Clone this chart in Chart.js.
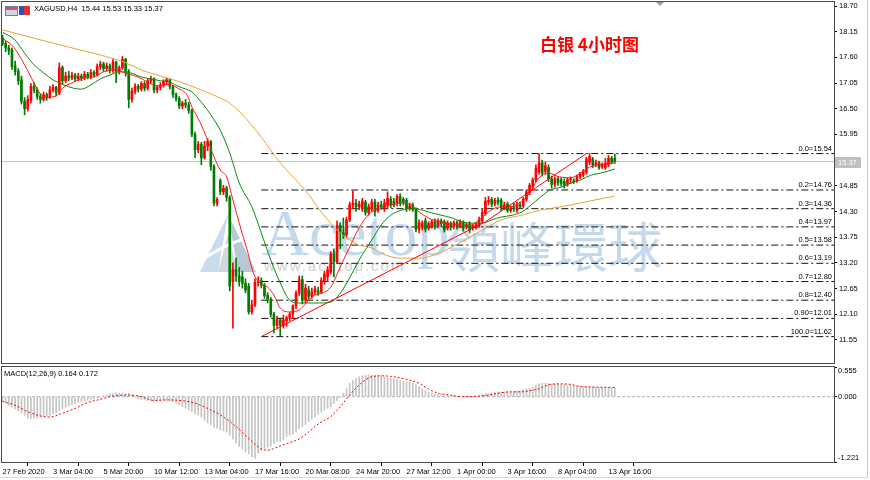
<!DOCTYPE html>
<html>
<head>
<meta charset="utf-8">
<script src="https://cdn.jsdelivr.net/npm/chart.js@4.4.1/dist/chart.umd.min.js"></script>
<style>
  body { margin: 0; background: #fff; width: 870px; height: 480px; overflow: hidden; position: relative; font-family: 'Liberation Sans', Arial, sans-serif; }
  canvas { position: absolute; left: 0; }
  #main { top: 0; }
  #macd { top: 365px; }
  .abs { position: absolute; white-space: nowrap; }
  #wmA { left: 262px; top: 201px; font: 65px/1 'Liberation Serif', serif; color: #c4d9ec; }
  #wmCn { left: 446px; top: 218px; font: 54px/1 'Noto Sans CJK TC', sans-serif; color: #c4d9ec; }
  #wmUrl { left: 264px; top: 258px; font: 15px/1 'Liberation Sans', sans-serif; color: #cfcfcf; letter-spacing: 2px; }
  #title { left: 540px; top: 35px; font: 700 17px/1 'Noto Sans CJK SC', sans-serif; color: #ff0000; }
  #hdr { left: 34px; top: 5px; font: 7.5px/1 'Liberation Sans', sans-serif; color: #000; }
  #macdLbl { left: 4px; top: 370px; font: 7.5px/1 'Liberation Sans', sans-serif; color: #000; }
  #ico1 { left: 5px; top: 6px; width: 11px; height: 8px; border: 1px solid #6d7fa8; background: linear-gradient(#e05050 0 3px, #cfd8ea 3px); }
  #ico2 { left: 19px; top: 6px; width: 11px; height: 9px; background: linear-gradient(90deg, #3050c0 0 5px, #e03030 5px); }
  #shift { left: 656px; top: 2px; width: 0; height: 0; border-left: 4px solid transparent; border-right: 4px solid transparent; border-top: 4px solid #a0a0a0; }
  #win { left: 0; top: 0; width: 867px; height: 477px; border-right: 1px solid #c8c8c8; border-bottom: 1px solid #d8d8d8; }
</style>
</head>
<body>
<div id="win" class="abs"></div>
<svg class="abs" style="left:198px;top:212px" width="70" height="62">
  <polygon points="30,2 2,60 20,60" fill="#c9dbec"/>
  <polygon points="30,2 58,60 40,60" fill="#b9c7d6"/>
  <polygon points="30,22 20,60 40,60" fill="#d3d7dc"/>
  <path d="M4,48 Q30,30 62,22" stroke="#fff" stroke-width="3" fill="none"/>
</svg>
<div id="wmA" class="abs">Acetop</div>
<div id="wmCn" class="abs">領峰環球</div>
<div id="wmUrl" class="abs">www.acetop.com</div>
<canvas id="main" width="870" height="365" style="width:870px;height:365px"></canvas>
<canvas id="macd" width="870" height="115" style="width:870px;height:115px"></canvas>
<div id="ico1" class="abs"></div>
<div id="ico2" class="abs"></div>
<div id="hdr" class="abs">XAGUSD,H4&nbsp; 15.44 15.53 15.33 15.37</div>
<div id="title" class="abs">白银 4小时图</div>
<div id="macdLbl" class="abs">MACD(12,26,9) 0.164 0.172</div>
<div id="shift" class="abs"></div>

<script>
// H4 bars, XAGUSD, from 27 Feb 2020 12:00
const opens = [
  18.02,17.90,17.80,17.76,17.42,17.30,17.12,16.66,16.50,16.68,
  16.98,16.90,16.76,16.70,16.80,16.74,16.90,16.96,16.84,17.38,
  17.10,17.20,17.16,17.22,17.14,17.20,17.16,17.24,17.18,17.28,
  17.22,17.40,17.46,17.36,17.42,17.32,17.50,17.30,17.38,17.56,
  17.30,16.70,16.88,16.98,16.92,17.04,16.94,17.10,17.14,16.90,
  16.96,17.00,17.08,17.12,16.98,16.80,16.72,16.56,16.62,16.58,
  16.46,15.95,15.62,15.74,15.45,15.70,15.80,15.26,14.48,14.96,
  14.72,14.80,14.60,12.80,13.05,12.92,12.90,12.76,12.70,12.15,
  12.30,12.78,12.82,12.72,12.50,12.42,12.10,11.86,11.98,11.86,
  11.96,12.02,12.10,12.28,12.55,12.84,12.40,12.62,12.48,12.58,
  12.60,12.58,12.80,12.90,13.00,13.40,13.22,14.00,13.84,13.80,
  14.12,14.44,14.48,14.40,14.36,14.50,14.28,14.36,14.50,14.32,
  14.44,14.36,14.44,14.56,14.52,14.48,14.62,14.56,14.54,14.36,
  14.44,14.34,13.92,13.96,14.10,13.94,13.98,14.08,14.00,14.10,
  14.08,13.94,14.04,13.98,14.06,14.00,14.06,13.96,14.04,13.94,
  13.96,14.00,14.10,14.26,14.50,14.56,14.46,14.54,14.54,14.38,
  14.46,14.32,14.38,14.32,14.44,14.42,14.56,14.70,14.82,14.98,
  15.14,15.34,15.16,15.24,15.00,14.88,15.00,14.98,14.94,14.88,
  14.98,14.96,14.96,15.04,15.08,15.14,15.36,15.42,15.30,15.34,
  15.26,15.24,15.30,15.44,15.44
];
const highs = [
  18.08,17.95,17.86,17.80,17.52,17.36,17.20,16.74,16.78,17.04,
  17.06,16.95,16.82,16.86,16.84,16.98,17.02,16.98,17.48,17.42,
  17.28,17.30,17.28,17.26,17.26,17.24,17.30,17.28,17.34,17.32,
  17.46,17.52,17.50,17.48,17.46,17.56,17.52,17.42,17.62,17.58,
  17.34,16.94,17.04,17.02,17.08,17.08,17.14,17.20,17.16,17.00,
  17.06,17.12,17.16,17.14,17.00,16.84,16.76,16.66,16.70,16.64,
  16.50,16.00,15.80,15.78,15.80,15.86,15.82,15.30,14.60,15.00,
  14.86,14.84,14.64,13.20,13.30,13.10,13.02,12.86,12.76,12.40,
  12.86,12.90,12.88,12.76,12.56,12.46,12.14,12.06,12.02,12.08,
  12.06,12.14,12.30,12.60,12.92,12.92,12.74,12.70,12.66,12.70,
  12.68,12.88,13.02,13.12,13.44,13.50,14.10,14.06,14.16,14.18,
  14.50,14.74,14.56,14.52,14.58,14.54,14.46,14.56,14.56,14.50,
  14.52,14.56,14.72,14.62,14.58,14.66,14.68,14.60,14.58,14.48,
  14.48,14.38,14.12,14.10,14.16,14.08,14.12,14.14,14.14,14.14,
  14.12,14.10,14.08,14.10,14.10,14.12,14.10,14.06,14.08,14.02,
  14.06,14.18,14.34,14.60,14.62,14.60,14.58,14.60,14.58,14.50,
  14.50,14.42,14.48,14.50,14.50,14.60,14.76,14.90,15.02,15.30,
  15.54,15.40,15.36,15.30,15.06,15.04,15.04,15.02,15.00,15.02,
  15.04,15.00,15.08,15.14,15.20,15.46,15.54,15.46,15.40,15.38,
  15.34,15.44,15.50,15.48,15.53
];
const lows = [
  17.85,17.72,17.66,17.34,17.22,17.02,16.60,16.37,16.45,16.62,
  16.84,16.70,16.62,16.66,16.68,16.72,16.86,16.78,16.80,17.02,
  17.06,17.10,17.12,17.08,17.10,17.10,17.12,17.14,17.14,17.18,
  17.20,17.34,17.30,17.30,17.26,17.28,17.06,17.24,17.34,17.20,
  16.52,16.64,16.82,16.86,16.88,16.88,16.90,17.04,16.84,16.84,
  16.90,16.96,17.02,16.92,16.74,16.66,16.50,16.50,16.52,16.40,
  15.90,15.45,15.56,15.30,15.42,15.60,15.18,14.42,14.42,14.66,
  14.66,14.52,12.60,11.80,12.80,12.70,12.66,12.56,12.10,12.10,
  12.26,12.70,12.66,12.44,12.34,12.04,11.70,11.80,11.64,11.80,
  11.84,11.96,12.02,12.22,12.50,12.32,12.34,12.42,12.44,12.52,
  12.50,12.54,12.74,12.80,12.96,12.90,13.18,13.50,13.72,13.76,
  14.08,14.36,14.30,14.34,14.30,14.22,14.22,14.30,14.20,14.28,
  14.34,14.30,14.38,14.38,14.40,14.42,14.42,14.44,14.30,14.32,
  14.30,13.86,13.84,13.90,13.86,13.90,13.94,13.92,13.96,13.98,
  13.86,13.90,13.90,13.92,13.92,13.96,13.88,13.92,13.84,13.90,
  13.92,13.96,14.06,14.22,14.44,14.40,14.42,14.44,14.32,14.34,
  14.28,14.28,14.30,14.28,14.36,14.38,14.52,14.66,14.76,14.94,
  15.10,15.06,15.10,14.94,14.80,14.82,14.86,14.84,14.80,14.84,
  14.90,14.90,14.92,15.00,15.04,15.10,15.30,15.24,15.26,15.20,
  15.22,15.20,15.26,15.32,15.33
];
const closes = [
  17.90,17.80,17.74,17.40,17.30,17.10,16.66,16.50,16.70,16.98,
  16.90,16.76,16.70,16.80,16.74,16.90,16.96,16.84,17.38,17.10,
  17.20,17.16,17.22,17.14,17.20,17.16,17.24,17.18,17.28,17.22,
  17.40,17.46,17.36,17.42,17.32,17.50,17.30,17.38,17.56,17.30,
  16.70,16.88,16.98,16.92,17.04,16.94,17.10,17.14,16.90,16.96,
  17.00,17.08,17.12,16.98,16.80,16.72,16.56,16.62,16.58,16.46,
  15.95,15.62,15.74,15.45,15.70,15.80,15.26,14.48,14.56,14.72,
  14.80,14.60,12.70,13.05,12.92,12.80,12.76,12.62,12.15,12.30,
  12.78,12.82,12.72,12.50,12.42,12.10,11.86,11.98,11.86,11.98,
  12.02,12.10,12.28,12.55,12.84,12.40,12.66,12.48,12.58,12.64,
  12.56,12.82,12.96,13.05,13.38,13.22,14.00,13.84,13.78,14.12,
  14.44,14.48,14.40,14.46,14.52,14.28,14.40,14.50,14.30,14.44,
  14.40,14.48,14.58,14.44,14.44,14.62,14.48,14.50,14.36,14.42,
  14.34,13.92,14.06,14.06,13.92,14.04,14.08,13.98,14.10,14.04,
  13.90,14.06,13.96,14.06,13.98,14.08,13.94,14.02,13.90,13.98,
  14.02,14.12,14.28,14.52,14.54,14.46,14.54,14.50,14.38,14.44,
  14.32,14.38,14.36,14.46,14.40,14.56,14.72,14.86,14.98,15.22,
  15.34,15.12,15.28,15.00,14.88,15.00,14.92,14.90,14.86,14.98,
  15.00,14.94,15.04,15.10,15.16,15.42,15.48,15.30,15.34,15.24,
  15.30,15.34,15.44,15.36,15.37
];

// moving averages (bar index, price)
const maFastIdx = [0,3.5,7,10,12,14,17,19,22.5,26,29,32,35,37,40,43,46,49,51,53,55.5,58.5,60,62.5,65,67,69,71,73,75,77.5,79.5,81.5,84,86,88,91,94,96.5,98,104,107,110,113,116.5,119.5,123,126,129,132,135,138.5,145,148,151,154,157.5,160.5,164,167,170,173,176.5,180,183,186,189,194];
const maFast = [18.01,17.82,17.44,17.05,16.82,16.75,16.77,16.94,17.07,17.16,17.18,17.29,17.33,17.31,17.24,17.18,17.07,16.99,17.01,17.02,16.94,16.79,16.54,16.22,15.83,15.47,15.19,15.04,14.55,14.05,13.48,12.98,12.77,12.68,12.51,12.23,12.15,12.19,12.36,12.47,12.68,13.11,13.54,13.95,14.27,14.37,14.44,14.48,14.46,14.29,14.16,14.08,14.01,14.00,14.12,14.29,14.40,14.40,14.48,14.70,15.02,15.12,15.04,15.02,15.12,15.25,15.30,15.34];
const maMidIdx = [0,4,7,10,13,16,19.5,22.5,25,28,31,34,37,40.5,44,47,50,53,56,60,63,66,69,72,75,79,82,85,88,91,94,100.5,104,107,110,113,117,120,123,126.5,129.5,133,136,139,142.5,145.5,148.5,152,155,158,161.5,164.5,167.5,170.5,173.5,177,180,183,186.5,189.5,194];
const maMid = [18.14,17.97,17.69,17.44,17.27,17.12,17.01,16.94,16.92,17.01,17.14,17.22,17.29,17.27,17.18,17.14,17.10,17.07,16.97,16.86,16.64,16.37,16.04,15.55,14.91,14.40,13.84,13.26,12.77,12.40,12.34,12.34,12.36,12.55,12.88,13.26,13.69,14.01,14.22,14.33,14.37,14.33,14.27,14.22,14.16,14.08,14.05,14.05,14.12,14.18,14.22,14.29,14.44,14.61,14.76,14.82,14.91,14.97,15.08,15.12,15.21];
const maSlowIdx = [0,10,21,31,38.5,44,50,56.5,63,69,72,75.5,82,88,94,97.5,100.5,104,107,110,113,117,120,123,126.5,133,135,139,145.5,152,158,164.5,170.5,177,183,189.5,194];
const maSlow = [18.19,18.01,17.82,17.65,17.50,17.33,17.20,17.07,16.90,16.73,16.62,16.41,15.89,15.34,14.90,14.62,14.33,14.05,13.84,13.69,13.58,13.52,13.41,13.33,13.30,13.30,13.33,13.43,13.65,13.90,14.12,14.22,14.33,14.40,14.48,14.57,14.63];

// fibonacci retracement and trend lines
const fibRatios = ['0.0','0.2','0.3','0.4','0.5','0.6','0.7','0.8','0.90','100.0'];
const fibLevels = [15.54,14.76,14.36,13.97,13.58,13.19,12.80,12.40,12.01,11.62];
const fibStart = 82;
const trendA = [[82, 11.62], [153, 14.08]];
const trendB = [[153, 14.08], [185, 15.54]];
const lastPrice = 15.37;

// MACD(12,26,9)
const macdMain = [
  -0.09,-0.12,-0.16,-0.19,-0.23,-0.27,-0.31,-0.35,-0.40,-0.41,
  -0.40,-0.40,-0.38,-0.37,-0.36,-0.34,-0.32,-0.30,-0.26,-0.23,
  -0.20,-0.17,-0.15,-0.13,-0.11,-0.09,-0.08,-0.06,-0.05,-0.04,
  -0.02,-0.01,0.01,0.03,0.05,0.06,0.07,0.07,0.07,0.06,
  0.06,0.03,0.00,-0.04,-0.05,-0.06,-0.07,-0.08,-0.09,-0.09,
  -0.08,-0.07,-0.07,-0.08,-0.10,-0.12,-0.15,-0.19,-0.22,-0.25,
  -0.28,-0.32,-0.34,-0.38,-0.44,-0.49,-0.53,-0.57,-0.59,-0.62,
  -0.64,-0.66,-0.72,-0.79,-0.87,-0.93,-0.98,-1.03,-1.07,-1.12,
  -1.15,-1.05,-1.00,-0.97,-0.94,-0.92,-0.88,-0.84,-0.84,-0.80,
  -0.75,-0.72,-0.70,-0.66,-0.60,-0.56,-0.52,-0.47,-0.42,-0.38,
  -0.33,-0.29,-0.25,-0.22,-0.19,-0.13,-0.07,-0.02,0.06,0.15,
  0.25,0.30,0.34,0.37,0.39,0.40,0.41,0.41,0.40,0.39,
  0.39,0.37,0.36,0.35,0.33,0.32,0.30,0.29,0.28,0.28,
  0.25,0.22,0.19,0.15,0.12,0.09,0.07,0.06,0.05,0.04,
  0.03,0.02,0.01,0.01,0.00,0.00,0.00,0.01,0.01,0.01,
  0.01,0.02,0.04,0.06,0.06,0.07,0.08,0.09,0.09,0.09,
  0.09,0.09,0.10,0.11,0.11,0.13,0.15,0.15,0.18,0.21,
  0.24,0.25,0.25,0.25,0.24,0.24,0.24,0.23,0.23,0.22,
  0.22,0.21,0.20,0.20,0.19,0.19,0.18,0.18,0.18,0.17,
  0.17,0.17,0.17,0.16,0.164
];
const signalIdx = [0,4,8,12,15,18.5,23,27,31,35,40,44,48,52,56,61,65,69,74,78,82,84,88,91,94,97,100.5,104,107,110,113,116,120,123,126,129,132,135,138.5,142,145,148,151,154,157.5,161,164,167,170,173,176.5,180,183,187,194];
const signal = [-0.09,-0.16,-0.28,-0.36,-0.38,-0.32,-0.22,-0.11,-0.05,0.01,0.03,0.00,-0.07,-0.06,-0.07,-0.12,-0.22,-0.34,-0.56,-0.78,-0.98,-1.00,-0.92,-0.86,-0.79,-0.66,-0.49,-0.37,-0.19,0.03,0.22,0.35,0.39,0.38,0.35,0.31,0.25,0.14,0.06,0.03,0.00,0.00,0.01,0.03,0.07,0.09,0.09,0.11,0.15,0.22,0.24,0.23,0.19,0.18,0.172];

// time axis
const timeTickIdx = [0,16,32,48,64,80,96,112,128,144,160,176,192];
const timeLabels = ['27 Feb 2020','3 Mar 04:00','5 Mar 20:00','10 Mar 12:00','13 Mar 04:00','17 Mar 16:00','20 Mar 08:00','24 Mar 20:00','27 Mar 12:00','1 Apr 00:00','3 Apr 16:00','8 Apr 04:00','13 Apr 16:00'];
const priceTicks = [18.70,18.15,17.60,17.05,16.50,15.95,15.40,14.85,14.30,13.75,13.20,12.65,12.10,11.55];
const macdTicks = [0.555, 0.000, -1.221];

// Constants
const X_MIN = -0.16;
const X_MAX = 263.45;
const UP = '#ff0000';
const DOWN = '#007d00';
const AXIS_FONT = { family: 'Liberation Sans', size: 7.5 };

Chart.defaults.animation = false;
Chart.defaults.font.family = 'Liberation Sans';

const pts = (xs, ys) => xs.map((x, i) => ({ x: x, y: ys[i] }));
const colorOf = i => closes[i] >= opens[i] ? UP : DOWN;
// keep the plot area where MT4 puts it (no extra room for edge labels)
const noPad = s => { s.paddingTop = 0; s.paddingBottom = 0; s.width = 36; };

// Frame round the plot area
const framePlugin = {
    id: 'frame',
    afterDraw(chart) {
        const a = chart.chartArea;
        const ctx = chart.ctx;
        ctx.save();
        ctx.strokeStyle = '#4a4a4a';
        ctx.lineWidth = 1;
        ctx.strokeRect(a.left - 0.5, a.top - 0.5, a.right - a.left + 1, a.bottom - a.top + 1);
        ctx.restore();
    }
};

// Fibonacci labels and last price tag
const mainLabels = {
    id: 'mainLabels',
    afterDraw(chart) {
        const ctx = chart.ctx;
        const y = chart.scales.y;
        ctx.save();
        ctx.font = '7.5px "Liberation Sans"';
        ctx.fillStyle = '#000';
        ctx.textAlign = 'right';
        ctx.textBaseline = 'bottom';
        fibLevels.forEach((lv, i) => {
            ctx.fillText(fibRatios[i] + '=' + lv.toFixed(2), 832, Math.round(y.getPixelForValue(lv)) - 1);
        });
        const py = Math.round(y.getPixelForValue(lastPrice));
        ctx.fillStyle = '#c0c0c0';
        ctx.fillRect(835, py - 5, 26, 11);
        ctx.fillStyle = '#fff';
        ctx.textAlign = 'left';
        ctx.textBaseline = 'middle';
        ctx.fillText(lastPrice.toFixed(2), 838, py + 0.5);
        ctx.restore();
    }
};

// MACD scale labels sit inside the window edges, as in MT4
const macdLabels = {
    id: 'macdLabels',
    afterDraw(chart) {
        const ctx = chart.ctx;
        const y = chart.scales.y;
        const a = chart.chartArea;
        ctx.save();
        ctx.font = '7.5px "Liberation Sans"';
        ctx.fillStyle = '#000';
        ctx.textAlign = 'left';
        ctx.textBaseline = 'middle';
        macdTicks.forEach(v => {
            let py = y.getPixelForValue(v);
            py = Math.min(Math.max(py, a.top + 4), a.bottom - 4);
            ctx.fillText(v.toFixed(3), 838, py);
        });
        ctx.restore();
    }
};

function initMainChart() {
    const idx = closes.map((c, i) => i);
    const datasets = [
        {
            type: 'bar', order: 5, grouped: false, barThickness: 1,
            data: idx.map(i => ({ x: i, y: [lows[i], highs[i]] })),
            backgroundColor: idx.map(colorOf)
        },
        {
            type: 'bar', order: 4, grouped: false, barThickness: 2,
            data: idx.map(i => ({ x: i, y: [opens[i], closes[i]] })),
            backgroundColor: idx.map(colorOf)
        },
        { type: 'line', order: 3, data: pts(maSlowIdx, maSlow), borderColor: '#e6a534' },
        { type: 'line', order: 2, data: pts(maMidIdx, maMid), borderColor: '#0a8a0a' },
        { type: 'line', order: 1, data: pts(maFastIdx, maFast), borderColor: '#ff1a1a' },
        { type: 'line', order: 0, data: trendA.map(p => ({ x: p[0], y: p[1] })), borderColor: '#ff0000', tension: 0 },
        { type: 'line', order: 0, data: trendB.map(p => ({ x: p[0], y: p[1] })), borderColor: '#ff0000', tension: 0 },
        { type: 'line', order: 9, data: [{ x: X_MIN, y: lastPrice }, { x: X_MAX, y: lastPrice }], borderColor: '#c4c4c4', tension: 0 }
    ];
    fibLevels.forEach(lv => {
        datasets.push({
            type: 'line', order: 8, tension: 0,
            data: [{ x: fibStart, y: lv }, { x: X_MAX, y: lv }],
            borderColor: '#111', borderDash: [7, 3, 2, 3]
        });
    });
    datasets.forEach(d => {
        if (d.type === 'line') {
            d.borderWidth = 1;
            d.pointRadius = 0;
            if (d.tension === undefined) { d.cubicInterpolationMode = 'monotone'; }
        }
    });

    new Chart(document.getElementById('main'), {
        type: 'bar',
        data: { datasets: datasets },
        options: {
            responsive: false,
            layout: { padding: { left: 2, top: 2, right: 0, bottom: 2 } },
            plugins: { legend: { display: false }, tooltip: { enabled: false } },
            scales: {
                x: { type: 'linear', min: X_MIN, max: X_MAX, offset: false, display: false },
                y: {
                    position: 'right', min: 11.055, max: 18.786,
                    afterFit: noPad,
                    afterBuildTicks: s => { s.ticks = priceTicks.map(v => ({ value: v })); },
                    ticks: { font: AXIS_FONT, color: '#000', padding: 2, callback: v => v.toFixed(2) },
                    grid: { drawOnChartArea: false, tickLength: 3, color: '#000' },
                    border: { display: true, color: '#4a4a4a' }
                }
            }
        },
        plugins: [framePlugin, mainLabels]
    });
}

function initMacdChart() {
    const idx = macdMain.map((v, i) => i);
    new Chart(document.getElementById('macd'), {
        type: 'bar',
        data: {
            datasets: [
                {
                    type: 'bar', order: 3, grouped: false, barThickness: 1,
                    data: idx.map(i => ({ x: i, y: macdMain[i] })),
                    backgroundColor: '#c4c4c4'
                },
                {
                    type: 'line', order: 1, data: pts(signalIdx, signal),
                    borderColor: '#ff0000', borderWidth: 1, borderDash: [2, 2],
                    pointRadius: 0, cubicInterpolationMode: 'monotone'
                },
                {
                    type: 'line', order: 4, data: [{ x: X_MIN, y: 0 }, { x: X_MAX, y: 0 }],
                    borderColor: '#b0b0b0', borderWidth: 1, borderDash: [3, 2], pointRadius: 0
                }
            ]
        },
        options: {
            responsive: false,
            layout: { padding: { left: 2, top: 2, right: 0, bottom: 0 } },
            plugins: { legend: { display: false }, tooltip: { enabled: false } },
            scales: {
                x: {
                    type: 'linear', min: X_MIN, max: X_MAX, offset: false,
                    afterFit: s => { s.height = 18; },
                    afterBuildTicks: s => { s.ticks = timeTickIdx.map(v => ({ value: v })); },
                    ticks: {
                        autoSkip: false, maxRotation: 0, minRotation: 0, align: 'start', padding: 1,
                        font: AXIS_FONT, color: '#000',
                        callback: v => timeLabels[timeTickIdx.indexOf(v)]
                    },
                    grid: { drawOnChartArea: false, tickLength: 4, color: '#000' },
                    border: { display: true, color: '#4a4a4a' }
                },
                y: {
                    position: 'right', min: -1.221, max: 0.555,
                    afterFit: noPad,
                    afterBuildTicks: s => { s.ticks = macdTicks.map(v => ({ value: v })); },
                    ticks: { display: false },
                    grid: { drawOnChartArea: false, tickLength: 3, color: '#000' },
                    border: { display: true, color: '#4a4a4a' }
                }
            }
        },
        plugins: [framePlugin, macdLabels]
    });
}

document.addEventListener('DOMContentLoaded', () => {
    initMainChart();
    initMacdChart();
});
</script>
</body>
</html>
